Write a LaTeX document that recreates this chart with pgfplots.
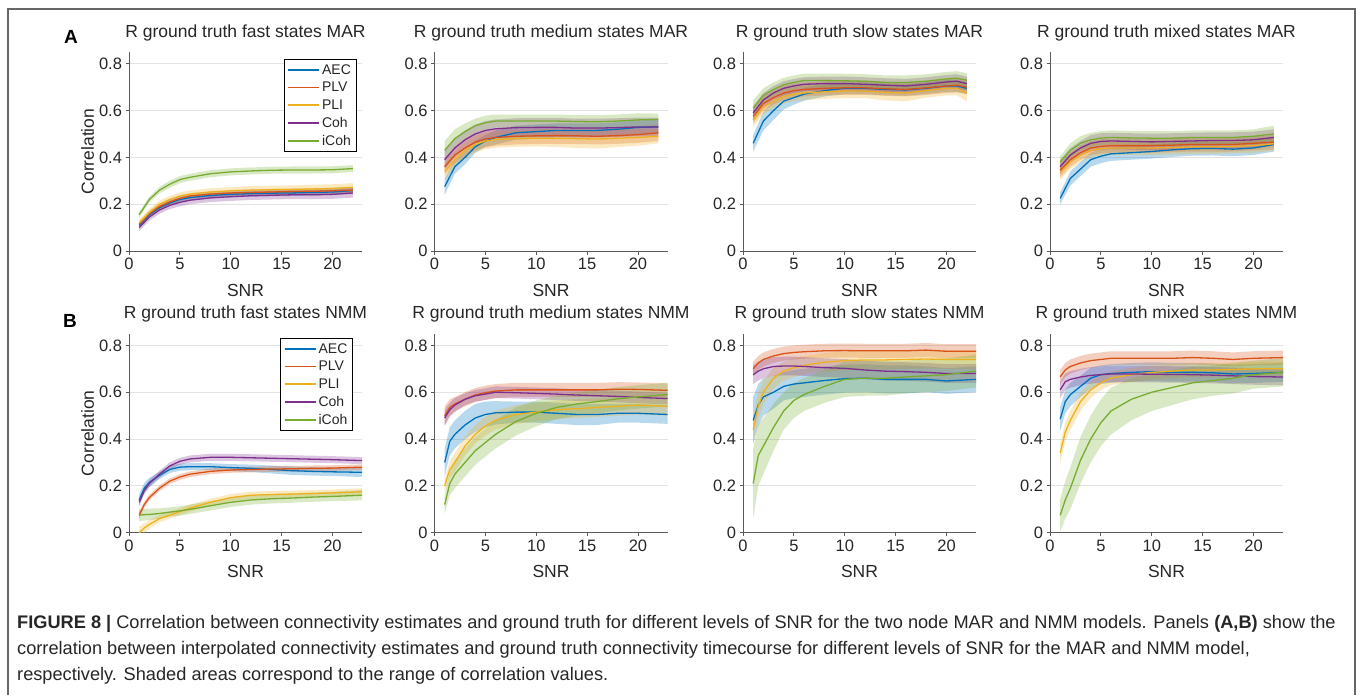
\documentclass[border=0pt]{standalone}
\usepackage{fontspec}
\setmainfont{Liberation Sans}
\usepackage{pgfplots}
\usepackage{pgfplotstable}
\pgfplotsset{compat=1.18}
\usepgfplotslibrary{fillbetween}

\definecolor{cA}{rgb}{0,0.447,0.741}
\definecolor{cP}{rgb}{0.85,0.325,0.098}
\definecolor{cL}{rgb}{0.929,0.694,0.125}
\definecolor{cC}{rgb}{0.494,0.184,0.556}
\definecolor{cI}{rgb}{0.466,0.674,0.188}
\definecolor{axc}{HTML}{5A5A5A}
\definecolor{gridc}{HTML}{E3E3E3}
\definecolor{txt}{HTML}{262626}
\definecolor{framec}{HTML}{666666}

% columns: x, AEC(a) +/- ad, PLV(p), PLI(l), Coh(c), iCoh(i)
\pgfplotstableread{
x a ad p pd l ld c cd i id
1 0.110 0.012 0.115 0.012 0.120 0.015 0.100 0.015 0.155 0.012
2 0.155 0.012 0.160 0.012 0.165 0.015 0.145 0.015 0.220 0.012
3 0.185 0.012 0.190 0.012 0.200 0.015 0.175 0.016 0.260 0.014
4 0.205 0.012 0.210 0.012 0.220 0.015 0.195 0.016 0.285 0.015
5 0.220 0.012 0.225 0.012 0.235 0.015 0.208 0.017 0.305 0.015
6 0.228 0.012 0.235 0.012 0.243 0.015 0.217 0.017 0.315 0.015
8 0.237 0.012 0.243 0.012 0.252 0.016 0.227 0.018 0.330 0.015
10 0.242 0.012 0.248 0.012 0.257 0.016 0.232 0.018 0.338 0.015
12 0.245 0.013 0.250 0.013 0.260 0.017 0.236 0.018 0.342 0.015
14 0.247 0.013 0.252 0.013 0.262 0.017 0.238 0.018 0.345 0.015
16 0.248 0.013 0.254 0.013 0.263 0.017 0.240 0.018 0.346 0.015
18 0.250 0.013 0.255 0.013 0.265 0.018 0.240 0.019 0.346 0.015
20 0.252 0.013 0.257 0.013 0.267 0.018 0.242 0.019 0.347 0.015
22 0.258 0.014 0.260 0.014 0.272 0.018 0.248 0.020 0.352 0.015
}\tAa
\pgfplotstableread{
x a ad p pd l ld c cd i id
1 0.275 0.035 0.360 0.035 0.340 0.035 0.390 0.040 0.430 0.040
2 0.360 0.030 0.410 0.035 0.390 0.035 0.440 0.040 0.480 0.040
3 0.400 0.030 0.440 0.035 0.430 0.035 0.475 0.040 0.510 0.035
4 0.445 0.025 0.465 0.035 0.455 0.035 0.500 0.040 0.535 0.030
5 0.470 0.025 0.478 0.035 0.470 0.035 0.515 0.040 0.548 0.030
6 0.485 0.030 0.485 0.035 0.476 0.035 0.522 0.040 0.555 0.028
8 0.505 0.030 0.490 0.035 0.480 0.035 0.527 0.040 0.555 0.028
10 0.510 0.030 0.492 0.035 0.482 0.035 0.528 0.040 0.555 0.028
12 0.515 0.030 0.493 0.035 0.482 0.038 0.528 0.040 0.555 0.028
14 0.515 0.030 0.492 0.035 0.480 0.040 0.525 0.040 0.553 0.028
16 0.515 0.030 0.490 0.035 0.478 0.040 0.525 0.040 0.552 0.028
18 0.520 0.030 0.493 0.035 0.482 0.038 0.527 0.040 0.555 0.028
20 0.528 0.030 0.497 0.035 0.485 0.035 0.530 0.040 0.560 0.028
22 0.530 0.030 0.505 0.035 0.490 0.030 0.530 0.040 0.562 0.025
}\tAb
\pgfplotstableread{
x a ad p pd l ld c cd i id
1 0.460 0.035 0.575 0.030 0.560 0.030 0.590 0.030 0.610 0.035
2 0.555 0.040 0.630 0.030 0.615 0.030 0.645 0.030 0.665 0.030
3 0.600 0.040 0.655 0.030 0.640 0.030 0.675 0.030 0.690 0.030
4 0.640 0.035 0.675 0.030 0.660 0.030 0.695 0.030 0.710 0.030
5 0.655 0.030 0.685 0.030 0.670 0.030 0.705 0.030 0.720 0.030
6 0.670 0.028 0.690 0.030 0.675 0.030 0.712 0.030 0.728 0.030
8 0.685 0.025 0.695 0.030 0.680 0.030 0.715 0.030 0.728 0.030
10 0.695 0.025 0.697 0.030 0.683 0.030 0.715 0.030 0.727 0.030
12 0.695 0.025 0.697 0.030 0.683 0.030 0.712 0.030 0.725 0.030
14 0.690 0.025 0.693 0.030 0.678 0.035 0.708 0.030 0.720 0.030
16 0.688 0.025 0.690 0.030 0.675 0.035 0.705 0.030 0.720 0.030
18 0.695 0.025 0.697 0.030 0.685 0.030 0.712 0.030 0.725 0.030
20 0.705 0.025 0.705 0.030 0.695 0.030 0.722 0.030 0.735 0.030
21 0.705 0.025 0.708 0.030 0.695 0.030 0.725 0.030 0.738 0.030
22 0.695 0.025 0.700 0.030 0.675 0.035 0.715 0.030 0.730 0.030
}\tAc
\pgfplotstableread{
x a ad p pd l ld c cd i id
1 0.225 0.025 0.345 0.030 0.335 0.030 0.360 0.030 0.380 0.025
2 0.310 0.030 0.390 0.030 0.380 0.030 0.410 0.030 0.430 0.030
3 0.350 0.030 0.420 0.030 0.410 0.030 0.440 0.030 0.460 0.030
4 0.390 0.030 0.440 0.030 0.430 0.030 0.460 0.035 0.475 0.030
5 0.405 0.030 0.447 0.030 0.437 0.030 0.468 0.035 0.482 0.030
6 0.415 0.030 0.450 0.030 0.440 0.030 0.470 0.035 0.485 0.030
8 0.420 0.030 0.450 0.030 0.440 0.030 0.468 0.035 0.483 0.030
10 0.425 0.030 0.450 0.030 0.440 0.030 0.466 0.035 0.482 0.030
12 0.432 0.030 0.452 0.030 0.442 0.030 0.468 0.035 0.482 0.030
14 0.437 0.030 0.455 0.030 0.445 0.030 0.470 0.035 0.485 0.030
16 0.438 0.030 0.455 0.030 0.445 0.030 0.472 0.035 0.485 0.030
18 0.435 0.030 0.455 0.030 0.447 0.030 0.472 0.035 0.485 0.030
20 0.440 0.030 0.460 0.030 0.450 0.030 0.475 0.035 0.490 0.030
22 0.455 0.030 0.465 0.030 0.458 0.030 0.485 0.035 0.500 0.035
}\tAd
\pgfplotstableread{
x a ad p pd l ld c cd i id
1 0.140 0.025 0.075 0.015 0.000 0.025 0.130 0.015 0.075 0.025
1.5 0.190 0.022 0.120 0.013 0.020 0.020 0.180 0.015 0.077 0.025
2 0.215 0.020 0.150 0.012 0.035 0.018 0.210 0.015 0.078 0.025
3 0.245 0.015 0.190 0.012 0.060 0.015 0.250 0.015 0.082 0.022
4 0.270 0.015 0.220 0.012 0.075 0.015 0.285 0.015 0.088 0.020
5 0.280 0.015 0.238 0.012 0.090 0.015 0.305 0.015 0.093 0.020
6 0.282 0.015 0.250 0.012 0.105 0.015 0.315 0.015 0.100 0.020
8 0.282 0.015 0.262 0.012 0.130 0.015 0.322 0.015 0.115 0.020
10 0.278 0.015 0.268 0.012 0.150 0.015 0.322 0.015 0.130 0.020
12 0.275 0.016 0.270 0.012 0.160 0.015 0.320 0.015 0.140 0.020
14 0.270 0.017 0.272 0.012 0.163 0.015 0.318 0.015 0.145 0.020
16 0.265 0.018 0.273 0.012 0.165 0.015 0.316 0.015 0.148 0.020
18 0.262 0.018 0.275 0.012 0.167 0.015 0.314 0.015 0.152 0.020
20 0.260 0.018 0.276 0.012 0.170 0.015 0.312 0.015 0.155 0.020
22.9 0.258 0.020 0.280 0.012 0.175 0.015 0.308 0.015 0.160 0.022
}\tBa
\pgfplotstableread{
x a ad p pd l ld c cd i id
1 0.300 0.060 0.500 0.040 0.200 0.030 0.490 0.035 0.120 0.040
1.5 0.390 0.060 0.535 0.035 0.270 0.035 0.525 0.030 0.210 0.050
2 0.420 0.060 0.550 0.030 0.300 0.040 0.545 0.030 0.250 0.060
3 0.460 0.060 0.570 0.030 0.370 0.040 0.570 0.025 0.300 0.060
4 0.490 0.060 0.588 0.030 0.420 0.040 0.585 0.025 0.350 0.060
5 0.505 0.055 0.598 0.030 0.455 0.040 0.592 0.025 0.385 0.060
6 0.512 0.050 0.605 0.030 0.480 0.040 0.600 0.025 0.420 0.060
8 0.515 0.045 0.610 0.030 0.505 0.040 0.598 0.025 0.475 0.060
10 0.515 0.045 0.610 0.030 0.515 0.040 0.595 0.025 0.510 0.055
12 0.510 0.045 0.610 0.030 0.525 0.040 0.592 0.025 0.535 0.050
14 0.505 0.045 0.610 0.030 0.530 0.040 0.588 0.025 0.550 0.050
16 0.505 0.045 0.610 0.030 0.535 0.040 0.585 0.025 0.560 0.050
18 0.510 0.040 0.613 0.030 0.540 0.040 0.582 0.025 0.572 0.050
20 0.510 0.040 0.612 0.030 0.545 0.040 0.578 0.025 0.580 0.050
22.9 0.505 0.040 0.608 0.030 0.540 0.040 0.573 0.025 0.590 0.050
}\tBb
\pgfplotstableread{
x a ad p pd l ld c cd i id
1 0.480 0.100 0.700 0.030 0.440 0.060 0.675 0.040 0.210 0.150
1.5 0.545 0.090 0.725 0.030 0.540 0.060 0.690 0.040 0.330 0.130
2 0.580 0.080 0.740 0.030 0.600 0.050 0.700 0.040 0.370 0.120
3 0.600 0.070 0.755 0.030 0.660 0.045 0.710 0.040 0.450 0.100
4 0.625 0.060 0.765 0.030 0.690 0.040 0.712 0.040 0.520 0.080
5 0.635 0.060 0.770 0.030 0.705 0.040 0.712 0.040 0.565 0.075
6 0.640 0.060 0.773 0.030 0.715 0.040 0.710 0.040 0.590 0.070
8 0.650 0.060 0.777 0.030 0.728 0.040 0.705 0.040 0.625 0.070
10 0.658 0.060 0.778 0.030 0.735 0.040 0.702 0.040 0.655 0.075
12 0.660 0.060 0.777 0.030 0.738 0.040 0.695 0.040 0.660 0.075
14 0.655 0.060 0.777 0.030 0.738 0.040 0.690 0.040 0.660 0.075
16 0.655 0.060 0.777 0.030 0.740 0.040 0.688 0.040 0.665 0.070
18 0.655 0.055 0.780 0.030 0.742 0.040 0.685 0.040 0.670 0.070
20 0.648 0.055 0.775 0.030 0.740 0.040 0.680 0.040 0.675 0.070
22.9 0.655 0.055 0.775 0.030 0.740 0.040 0.680 0.040 0.690 0.070
}\tBc
\pgfplotstableread{
x a ad p pd l ld c cd i id
1 0.485 0.050 0.665 0.030 0.340 0.040 0.610 0.035 0.075 0.070
1.5 0.560 0.050 0.695 0.030 0.430 0.040 0.645 0.035 0.140 0.080
2 0.590 0.050 0.710 0.030 0.480 0.040 0.655 0.035 0.190 0.090
3 0.625 0.045 0.725 0.030 0.560 0.040 0.665 0.035 0.310 0.100
4 0.660 0.045 0.735 0.030 0.610 0.035 0.672 0.035 0.400 0.100
5 0.675 0.040 0.740 0.030 0.640 0.030 0.675 0.035 0.470 0.100
6 0.680 0.040 0.745 0.030 0.660 0.030 0.678 0.035 0.520 0.100
8 0.685 0.040 0.745 0.030 0.675 0.030 0.678 0.035 0.570 0.090
10 0.688 0.040 0.745 0.030 0.685 0.030 0.677 0.035 0.600 0.080
12 0.685 0.040 0.745 0.030 0.690 0.030 0.676 0.035 0.620 0.075
14 0.685 0.040 0.748 0.030 0.695 0.030 0.675 0.035 0.640 0.070
16 0.683 0.040 0.745 0.030 0.695 0.030 0.673 0.035 0.650 0.065
18 0.678 0.040 0.740 0.030 0.697 0.030 0.670 0.035 0.660 0.065
20 0.680 0.040 0.745 0.030 0.700 0.030 0.667 0.035 0.675 0.060
22.9 0.685 0.040 0.748 0.030 0.700 0.030 0.665 0.035 0.685 0.060
}\tBd

\newcommand\band[3]{%
  \addplot[draw=none, forget plot, name path=up#2] table[x=x, y expr=\thisrow{#2}+\thisrow{#2d}] {#1};
  \addplot[draw=none, forget plot, name path=lo#2] table[x=x, y expr=\thisrow{#2}-\thisrow{#2d}] {#1};
  \addplot[fill=#3, fill opacity=0.28, draw=none, forget plot] fill between[of=up#2 and lo#2];
}
\newcommand\curve[3]{%
  \addplot[draw=#3, line width=1.3pt, forget plot] table[x=x, y=#2] {#1};
}
\newcommand\allseries[1]{%
  \band{#1}{a}{cA}\band{#1}{p}{cP}\band{#1}{l}{cL}\band{#1}{c}{cC}\band{#1}{i}{cI}
  \curve{#1}{a}{cA}\curve{#1}{p}{cP}\curve{#1}{l}{cL}\curve{#1}{c}{cC}\curve{#1}{i}{cI}
}
\newcommand\thelegend{%
  \addlegendimage{draw=cA}\addlegendentry{AEC}
  \addlegendimage{draw=cP}\addlegendentry{PLV}
  \addlegendimage{draw=cL}\addlegendentry{PLI}
  \addlegendimage{draw=cC}\addlegendentry{Coh}
  \addlegendimage{draw=cI}\addlegendentry{iCoh}
}

\pgfplotsset{
  panel/.style={
    scale only axis, width=233pt, height=199pt, anchor=south west,
    xmin=0, xmax=22.9, ymin=0, ymax=0.85,
    axis lines*=left, axis line style={-, draw=axc, line width=0.9pt},
    xtick={0,5,10,15,20}, ytick={0,0.2,0.4,0.6,0.8},
    tick align=outside, major tick length=3.5pt,
    tick style={draw=axc, line width=0.8pt},
    ymajorgrids, grid style={draw=gridc, line width=0.8pt},
    tick label style={font=\fontsize{16.5}{19}\selectfont, text=txt},
    /pgf/number format/assume math mode=true,
    title style={font=\fontsize{17.5}{20}\selectfont, text=txt,
      at={(axis description cs:0.5,1)}, anchor=base, yshift=9pt},
    xlabel={SNR},
    xlabel style={font=\fontsize{17.5}{20}\selectfont, text=txt,
      at={(axis description cs:0.5,0)}, anchor=center, yshift=-39pt},
    ylabel style={font=\fontsize{17.5}{20}\selectfont, text=txt,
      at={(axis description cs:-0.178,0.5)}, anchor=center, rotate=0},
    legend style={font=\fontsize{14}{16}\selectfont, text=txt, draw=black,
      line width=0.6pt, anchor=north east, inner xsep=3pt, inner ysep=2.5pt,
      nodes={inner sep=2pt}, row sep=2.4pt},
    legend cell align=left,
    legend image code/.code={\draw[#1, line width=1.8pt] (0pt,0pt) -- (31pt,0pt);},
  }
}

\begin{document}
\begin{tikzpicture}
\path (0,0) rectangle (1360pt,-695pt);

% ---- row A (MAR)
\begin{axis}[panel, at={(129pt,-251pt)}, title={R ground truth fast states MAR},
  ylabel={Correlation},
  legend style={at={(axis description cs:0.975,0.9625)}}]
\thelegend
\allseries{\tAa}
\end{axis}
\begin{axis}[panel, at={(434.5pt,-251pt)}, title={R ground truth medium states MAR}]
\allseries{\tAb}
\end{axis}
\begin{axis}[panel, at={(743pt,-251pt)}, title={R ground truth slow states MAR}]
\allseries{\tAc}
\end{axis}
\begin{axis}[panel, at={(1050pt,-251pt)}, title={R ground truth mixed states MAR}]
\allseries{\tAd}
\end{axis}

% ---- row B (NMM)
\begin{axis}[panel, at={(129pt,-532.7pt)}, title={R ground truth fast states NMM},
  ylabel={Correlation},
  legend style={at={(axis description cs:0.96,0.976)}}]
\thelegend
\allseries{\tBa}
\end{axis}
\begin{axis}[panel, at={(434.5pt,-532.7pt)}, title={R ground truth medium states NMM}]
\allseries{\tBb}
\end{axis}
\begin{axis}[panel, at={(743pt,-532.7pt)}, title={R ground truth slow states NMM}]
\allseries{\tBc}
\end{axis}
\begin{axis}[panel, at={(1050pt,-532.7pt)}, title={R ground truth mixed states NMM}]
\allseries{\tBd}
\end{axis}

% panel letters
\node[font=\bfseries\fontsize{19}{22}\selectfont, text=black] at (71pt,-37pt) {A};
\node[font=\bfseries\fontsize{19}{22}\selectfont, text=black] at (70pt,-321pt) {B};

% frame
\draw[framec, line width=1.2pt] (8pt,-695pt) -- (8pt,-9pt) -- (1355pt,-9pt) -- (1355pt,-695pt);

% caption
\begin{scope}[every node/.style={anchor=base west, inner sep=0pt, font=\fontsize{18.2}{21}\selectfont, text=txt}]
\node at (17pt,-628pt) {\textbf{FIGURE 8 |} Correlation between connectivity estimates and ground truth for different levels of SNR for the two node MAR and NMM models. Panels \textbf{(A,B)} show the};
\node at (17pt,-654pt) {correlation between interpolated connectivity estimates and ground truth connectivity timecourse for different levels of SNR for the MAR and NMM model,};
\node at (17pt,-680pt) {respectively. Shaded areas correspond to the range of correlation values.};
\end{scope}
\end{tikzpicture}
\end{document}
